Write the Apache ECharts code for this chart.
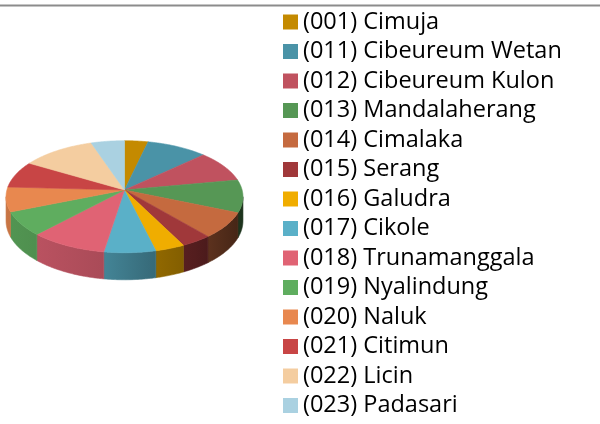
<!DOCTYPE html>
<html>
<head>
<meta charset="utf-8">
<script src="https://cdn.jsdelivr.net/npm/echarts@6/dist/echarts.min.js"></script>
<style>
html,body{margin:0;padding:0;background:#fff;}
#main{width:600px;height:424px;}
</style>
</head>
<body>
<div id="main"></div>
<script>
const categories = [
  '(001) Cimuja', '(011) Cibeureum Wetan', '(012) Cibeureum Kulon', '(013) Mandalaherang',
  '(014) Cimalaka', '(015) Serang', '(016) Galudra', '(017) Cikole', '(018) Trunamanggala',
  '(019) Nyalindung', '(020) Naluk', '(021) Citimun', '(022) Licin', '(023) Padasari'
];
const values = [3.6, 9.3, 9.1, 9.4, 7.4, 3.75, 3.6, 6.25, 9.4, 6.9, 7.05, 7.7, 11.3, 5.1];
const colors = [
  '#c48a00', '#4a93a7', '#c0525f', '#569755', '#c56a3f', '#a0383a', '#f0ad00',
  '#5ab0c8', '#e06374', '#5fad5f', '#e8884f', '#c84545', '#f4cda0', '#aad1e1'
];

// layout of the tilted pie (pixels)
const CX = 124.5, CY = 190, RA = 117.6, RB = 55.2, PERSP = 0.12, DEPTH = 23.8;

const total = values.reduce((a, b) => a + b, 0);
const cum = [0];
values.forEach((v, i) => cum.push(cum[i] + v));

function rimPoint(t, h) {
  const u = Math.sin(t), v = -Math.cos(t), k = 1 / (1 - PERSP * v);
  return [CX + RA * u * k, CY + RB * v * k + h * DEPTH * k];
}
function shade(hex, f) {
  const n = parseInt(hex.slice(1), 16);
  const r = Math.round(((n >> 16) & 255) * f), g = Math.round(((n >> 8) & 255) * f), b = Math.round((n & 255) * f);
  return 'rgb(' + r + ',' + g + ',' + b + ')';
}
function arc(t0, t1, h) {
  const pts = [];
  const n = Math.max(2, Math.ceil(Math.abs(t1 - t0) / 0.01));
  for (let j = 0; j <= n; j++) pts.push(rimPoint(t0 + (t1 - t0) * j / n, h));
  return pts;
}

function makeRender(idx) {
  return function (params, api) {
    const t0 = cum[idx] / total * 2 * Math.PI;
    const t1 = t0 + api.value(0) / total * 2 * Math.PI;
    const base = colors[idx];
    const children = [];
    const tmin = Math.acos(-PERSP), tmax = 2 * Math.PI - tmin;
    const a = Math.max(t0, tmin), b = Math.min(t1, tmax);
    if (a < b) {
      const side = arc(a, b, 0).concat(arc(b, a, 1));
      const grad = {
        type: 'linear', x: CX - RA, y: 0, x2: CX + RA, y2: 0, global: true,
        colorStops: [
          { offset: 0, color: shade(base, 0.86) },
          { offset: 0.4, color: shade(base, 0.76) },
          { offset: 0.6, color: shade(base, 0.62) },
          { offset: 0.8, color: shade(base, 0.52) },
          { offset: 1, color: shade(base, 0.34) }
        ]
      };
      children.push({ type: 'polygon', z2: 1, shape: { points: side },
        style: { fill: grad, stroke: grad, lineWidth: 0.6 } });
    }
    const top = [[CX, CY]].concat(arc(t0, t1, 0));
    children.push({ type: 'polygon', z2: 10, shape: { points: top },
      style: { fill: base, stroke: base, lineWidth: 0.6 } });
    return { type: 'group', children: children };
  };
}

const series = categories.map((name, i) => ({
  type: 'custom',
  name: name,
  coordinateSystem: 'none',
  itemStyle: { color: colors[i] },
  data: [[values[i]]],
  renderItem: makeRender(i)
}));

const chart = echarts.init(document.getElementById('main'), null, { renderer: 'canvas' });
chart.setOption({
  animation: false,
  backgroundColor: '#ffffff',
  graphic: [{
    type: 'line', shape: { x1: 0, y1: 5.5, x2: 600, y2: 5.5 },
    style: { stroke: '#8c8c8c', lineWidth: 2 }
  }],
  legend: {
    orient: 'vertical', left: 283, top: 10, padding: 0,
    itemWidth: 15, itemHeight: 15, itemGap: 5.5, icon: 'rect',
    textStyle: { fontFamily: 'Open Sans', fontSize: 23.5, color: '#000', lineHeight: 24 },
    data: categories
  },
  series: series
});
</script>
</body>
</html>
